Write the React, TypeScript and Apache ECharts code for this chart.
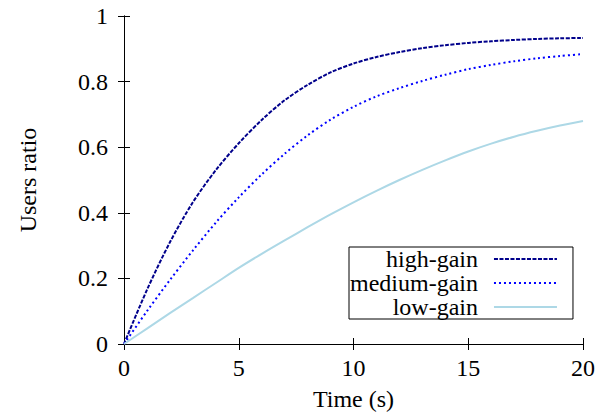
import React, { useEffect, useRef } from "react";
import * as echarts from "echarts";

const timeS = [0, 1, 2, 3, 4, 5, 6, 7, 8, 9, 10, 11, 12, 13, 14, 15, 16, 17, 18, 19, 20];
const highGain = [0, 0.165, 0.31, 0.432, 0.53, 0.612, 0.683, 0.743, 0.79, 0.828, 0.855, 0.875, 0.89, 0.902, 0.911, 0.918, 0.923, 0.927, 0.93, 0.932, 0.933];
const mediumGain = [0, 0.1, 0.195, 0.285, 0.37, 0.447, 0.517, 0.58, 0.636, 0.684, 0.723, 0.755, 0.78, 0.802, 0.821, 0.838, 0.851, 0.862, 0.871, 0.878, 0.884];
const lowGain = [0, 0.047, 0.094, 0.14, 0.186, 0.232, 0.275, 0.316, 0.356, 0.395, 0.432, 0.467, 0.5, 0.531, 0.56, 0.587, 0.611, 0.632, 0.65, 0.666, 0.68];
const seriesNames = ["high-gain", "medium-gain", "low-gain"];

const FONT = "'Liberation Serif', 'Times New Roman', serif";
const FS = 24;

const pairs = (ys: number[]) => timeS.map((t, i) => [t, ys[i]]);

export default function App() {
  const ref = useRef<HTMLDivElement>(null);
  useEffect(() => {
    if (!ref.current) return;
    const chart = echarts.init(ref.current, undefined, { renderer: "svg" });
    const axisLine = { show: true, lineStyle: { color: "#000", width: 1 } };
    const tick = { show: true, inside: true, length: 6, lineStyle: { color: "#000", width: 1 } };
    const label = { fontFamily: FONT, fontSize: FS, color: "#000" };
    chart.setOption({
      animation: false,
      backgroundColor: "#fff",
      textStyle: { fontFamily: FONT },
      grid: { left: 124, right: 25, top: 16, bottom: 76, outerBoundsMode: "none" },
      xAxis: [
        {
          type: "value",
          min: 0,
          max: 20,
          interval: 5,
          position: "bottom",
          name: "Time (s)",
          nameLocation: "middle",
          nameGap: 43,
          nameTextStyle: { ...label },
          axisLine,
          axisTick: tick,
          axisLabel: { ...label, margin: 12 },
          splitLine: { show: false },
        },
        {
          type: "value",
          min: 0,
          max: 20,
          interval: 5,
          position: "top",
          axisLine,
          axisTick: tick,
          axisLabel: { show: false },
          splitLine: { show: false },
        },
      ],
      yAxis: [
        {
          type: "value",
          min: 0,
          max: 1,
          interval: 0.2,
          position: "left",
          name: "Users ratio",
          nameLocation: "middle",
          nameGap: 84,
          nameTextStyle: { ...label },
          axisLine,
          axisTick: tick,
          axisLabel: { ...label, margin: 16 },
          splitLine: { show: false },
        },
        {
          type: "value",
          min: 0,
          max: 1,
          interval: 0.2,
          position: "right",
          axisLine,
          axisTick: tick,
          axisLabel: { show: false },
          splitLine: { show: false },
        },
      ],
      legend: {
        orient: "vertical",
        left: 349,
        top: 247,
        align: "right",
        itemWidth: 63,
        itemHeight: 14,
        itemGap: 0,
        padding: [0, 15, 0, 1],
        borderColor: "#000",
        borderWidth: 1,
        itemStyle: { opacity: 0 },
        textStyle: { fontFamily: FONT, fontSize: FS, color: "#000", lineHeight: 24, padding: [0, 11, 0, 0] },
        data: seriesNames,
      },
      series: [
        {
          name: seriesNames[0],
          type: "line",
          data: pairs(highGain),
          smooth: 0.3,
          symbol: "none",
          lineStyle: { color: "#00008b", width: 2, type: [4, 1.5] },
          itemStyle: { color: "#00008b" },
        },
        {
          name: seriesNames[1],
          type: "line",
          data: pairs(mediumGain),
          smooth: 0.3,
          symbol: "none",
          lineStyle: { color: "#0000ff", width: 2, type: [2, 3] },
          itemStyle: { color: "#0000ff" },
        },
        {
          name: seriesNames[2],
          type: "line",
          data: pairs(lowGain),
          smooth: 0.3,
          symbol: "none",
          lineStyle: { color: "#add8e6", width: 2, type: "solid" },
          itemStyle: { color: "#add8e6" },
        },
      ],
    });
    return () => chart.dispose();
  }, []);
  return <div ref={ref} style={{ width: 608, height: 420, position: "absolute", left: 0, top: 0 }} />;
}
